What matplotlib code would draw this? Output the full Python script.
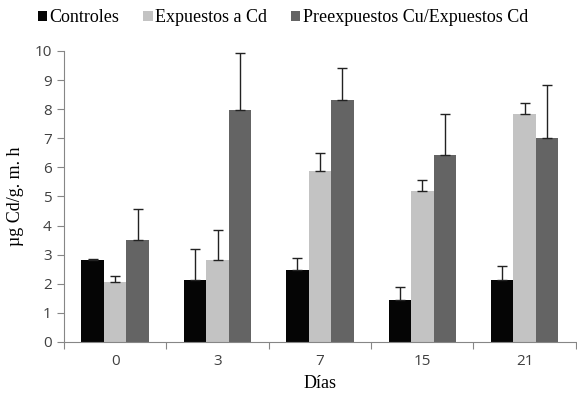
import numpy as np
import matplotlib
matplotlib.use("Agg")
import matplotlib.pyplot as plt

dias = ["0", "3", "7", "15", "21"]
series = ["Controles", "Expuestos a Cd", "Preexpuestos Cu/Expuestos Cd"]
controles = [2.83, 2.13, 2.47, 1.44, 2.13]
expuestos = [2.05, 2.82, 5.86, 5.19, 7.82]
preexpuestos = [3.51, 7.97, 8.30, 6.44, 7.02]
err_controles = [0.03, 1.05, 0.40, 0.46, 0.49]
err_expuestos = [0.22, 1.02, 0.62, 0.36, 0.39]
err_preexpuestos = [1.07, 1.96, 1.10, 1.39, 1.80]
colors = ["#050505", "#c3c3c3", "#646464"]

serif = ["Liberation Serif", "DejaVu Serif"]
sans = ["Open Sans", "DejaVu Sans"]

fig = plt.figure(figsize=(5.77, 3.98), dpi=100)
ax = fig.add_axes([0.111, 0.141, 0.887, 0.731])

x = np.arange(len(dias))
w = 0.22
vals = [controles, expuestos, preexpuestos]
errs = [err_controles, err_expuestos, err_preexpuestos]
for i in range(3):
    ax.bar(x + (i - 1) * w, vals[i], w, color=colors[i], label=series[i],
           edgecolor="none", zorder=2)
    ax.errorbar(x + (i - 1) * w, vals[i], yerr=[np.zeros(len(dias)), errs[i]],
                fmt="none", ecolor="#222222", elinewidth=1.0, capsize=3.5,
                capthick=1.0, zorder=3)

ax.set_xlim(-0.5, len(dias) - 0.5)
ax.set_ylim(0, 10)
ax.set_yticks(range(0, 11))
ax.set_xticks(x)
ax.set_xticklabels(dias)
ax.set_xticks(np.arange(-0.5, len(dias) - 0.4, 1), minor=True)
ax.tick_params(axis="x", which="major", length=0, pad=9)
ax.tick_params(axis="x", which="minor", length=5, color="#868686", width=0.8)
ax.tick_params(axis="y", length=5, color="#868686", width=0.8, pad=4)
for lab in ax.get_xticklabels() + ax.get_yticklabels():
    lab.set_family(sans)
    lab.set_fontsize(11)
    lab.set_color("#404040")

for s in ["top", "right"]:
    ax.spines[s].set_visible(False)
for s in ["left", "bottom"]:
    ax.spines[s].set_color("#868686")
    ax.spines[s].set_linewidth(0.8)

ax.set_xlabel("Días", family=serif, fontsize=13, labelpad=4)
ax.set_ylabel("µg Cd/g. m. h", family=serif, fontsize=13, labelpad=7)

leg = fig.legend(loc="center", bbox_to_anchor=(0.49, 0.955), ncol=3, frameon=False,
                 prop={"family": serif, "size": 13}, handlelength=0.55,
                 handleheight=0.55, handletextpad=0.12, columnspacing=1.3)

fig.savefig("out.png", dpi=100)
